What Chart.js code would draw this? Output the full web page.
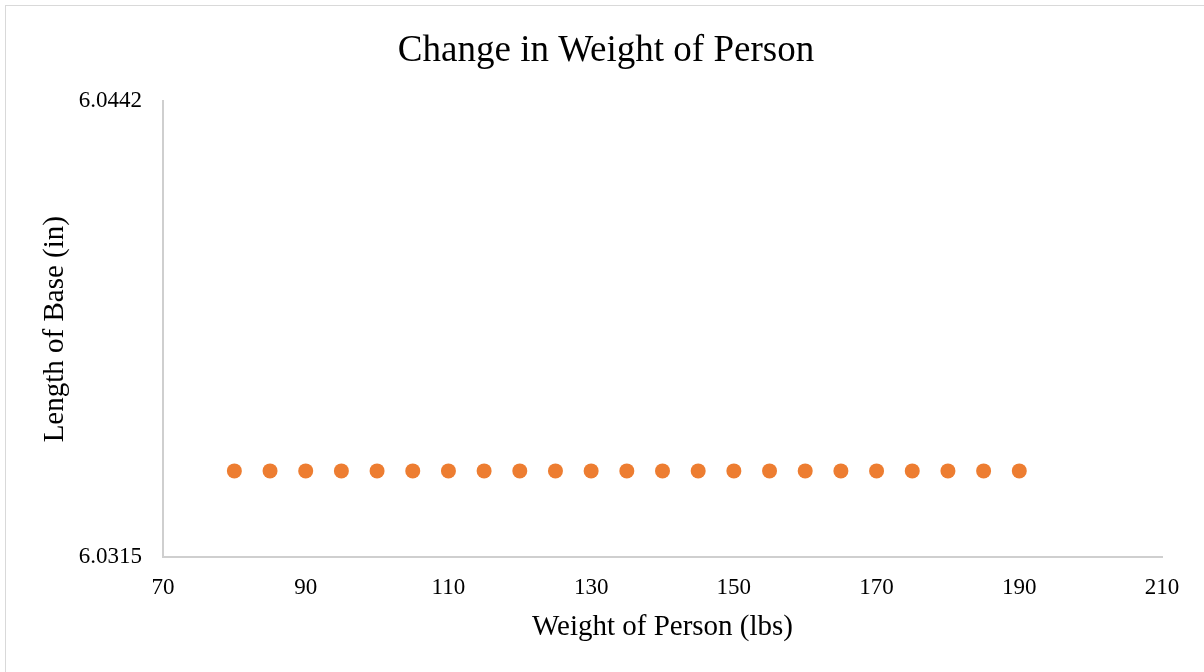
<!DOCTYPE html>
<html>
<head>
<meta charset="utf-8">
<title>Change in Weight of Person</title>
<script src="https://cdn.jsdelivr.net/npm/chart.js@4"></script>
<style>
  html, body { margin: 0; padding: 0; background: #ffffff; overflow: hidden; }
  #wrap { position: relative; width: 1204px; height: 672px; }
  #frame { position: absolute; left: 5px; top: 5px; width: 1400px; height: 900px;
           border: 1px solid #d9d9d9; box-sizing: border-box; }
  #chart { position: absolute; left: 0; top: 0; }
</style>
</head>
<body>
<div id="wrap">
  <div id="frame"></div>
  <canvas id="chart" width="1204" height="672"></canvas>
</div>
<script>
// Person weight (lbs) and the measured base length (in)
const weights = [80, 85, 90, 95, 100, 105, 110, 115, 120, 125, 130, 135,
                 140, 145, 150, 155, 160, 165, 170, 175, 180, 185, 190];
const baseLengths = [6.0339, 6.0339, 6.0339, 6.0339, 6.0339, 6.0339, 6.0339, 6.0339,
                     6.0339, 6.0339, 6.0339, 6.0339, 6.0339, 6.0339, 6.0339, 6.0339,
                     6.0339, 6.0339, 6.0339, 6.0339, 6.0339, 6.0339, 6.0339];
const xTicks = [70, 90, 110, 130, 150, 170, 190, 210];
const yTicks = [6.0315, 6.0442];

const serif = "'Liberation Serif', 'Times New Roman', serif";
const points = weights.map((w, i) => ({ x: w, y: baseLengths[i] }));

new Chart(document.getElementById('chart'), {
  type: 'scatter',
  data: {
    datasets: [{
      label: 'Length of Base',
      data: points,
      backgroundColor: '#ED7D31',
      borderColor: '#ED7D31',
      borderWidth: 0,
      pointRadius: 7.5,
      pointHoverRadius: 7.5
    }]
  },
  options: {
    responsive: false,
    animation: false,
    layout: { padding: { left: 50, right: 42, top: 5, bottom: 0 } },
    plugins: {
      legend: { display: false },
      tooltip: { enabled: false },
      title: {
        display: true,
        text: 'Change in Weight of Person',
        color: '#000000',
        font: { family: serif, size: 37, weight: 'normal' },
        padding: { top: 24, bottom: 28 }
      }
    },
    scales: {
      x: {
        type: 'linear',
        min: xTicks[0],
        max: xTicks[xTicks.length - 1],
        afterBuildTicks: s => { s.ticks = xTicks.map(v => ({ value: v })); },
        afterFit: s => { s.height = 115; },
        grid: { display: false, drawTicks: false },
        border: { display: true, color: '#cfcfcf', width: 2 },
        ticks: {
          color: '#000000',
          font: { family: serif, size: 23 },
          padding: 17,
          maxRotation: 0,
          callback: v => String(v)
        },
        title: {
          display: true,
          text: 'Weight of Person (lbs)',
          color: '#000000',
          font: { family: serif, size: 29, weight: 'normal' },
          padding: { top: 0, bottom: 27 }
        }
      },
      y: {
        type: 'linear',
        min: yTicks[0],
        max: yTicks[yTicks.length - 1],
        afterBuildTicks: s => { s.ticks = yTicks.map(v => ({ value: v })); },
        afterFit: s => { s.width = 113; },
        grid: { display: false, drawTicks: false },
        border: { display: true, color: '#cfcfcf', width: 2 },
        ticks: {
          color: '#000000',
          font: { family: serif, size: 23 },
          padding: 21,
          callback: v => Number(v).toFixed(4)
        },
        title: {
          display: true,
          text: 'Length of Base (in)',
          color: '#000000',
          font: { family: serif, size: 29, weight: 'normal' },
          padding: { top: -12, bottom: 0 }
        }
      }
    }
  }
});
</script>
</body>
</html>
